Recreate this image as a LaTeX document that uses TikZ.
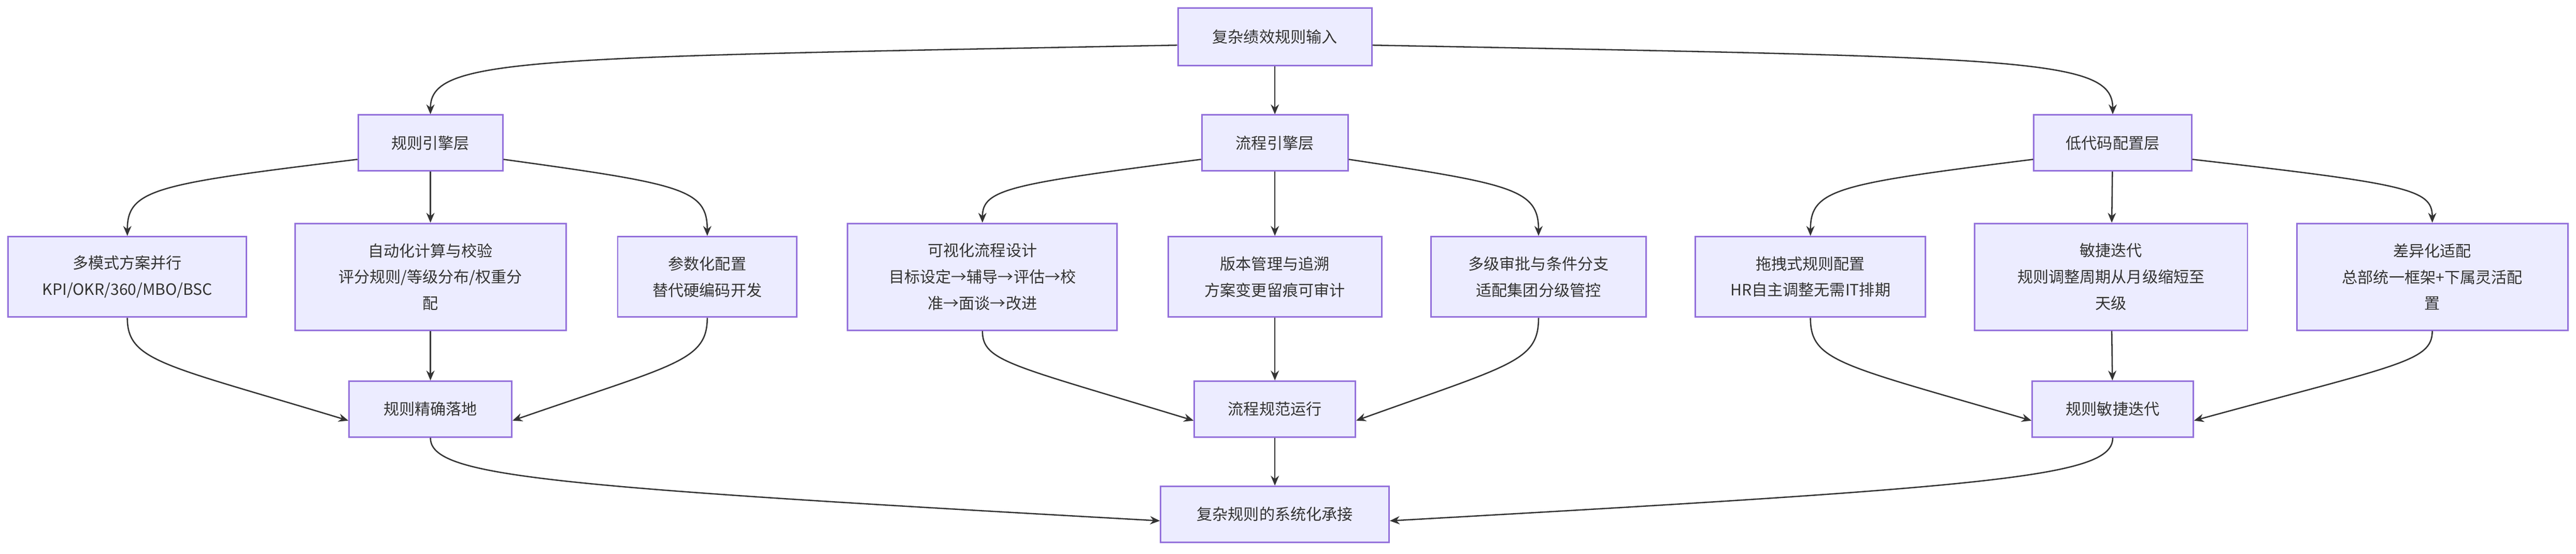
\documentclass[tikz,border=0pt]{standalone}
\usepackage{fontspec}
\setmainfont{Noto Sans CJK SC}
\usetikzlibrary{arrows.meta}
\definecolor{boxfill}{HTML}{ECECFF}
\definecolor{boxline}{HTML}{9370DB}
\definecolor{ink}{HTML}{333333}
\begin{document}
\begin{tikzpicture}[x=1pt,y=-1pt,
  box/.style={draw=boxline,fill=boxfill,line width=0.9pt,align=center,font=\fontsize{9.5}{16}\selectfont,text=ink,inner sep=0pt},
  arr/.style={draw=ink,line width=0.8pt,-{Stealth[length=6pt,width=5pt]}}]
\useasboundingbox (0,0) rectangle (1568,337);
\node[box,minimum width=118,minimum height=35] (top) at (776,22.5) {复杂绩效规则输入};
\node[box,minimum width=88,minimum height=34] (L1) at (262,87) {规则引擎层};
\node[box,minimum width=89,minimum height=34] (L2) at (776,87) {流程引擎层};
\node[box,minimum width=96,minimum height=34] (L3) at (1286,87) {低代码配置层};
\node[box,minimum width=145,minimum height=49] (A1) at (77.5,168.5) {多模式方案并行\\KPI/OKR/360/MBO/BSC};
\node[box,minimum width=165,minimum height=65] (A2) at (262,168.5) {自动化计算与校验\\评分规则/等级分布/权重分\\配};
\node[box,minimum width=109,minimum height=49] (A3) at (430.5,168.5) {参数化配置\\替代硬编码开发};
\node[box,minimum width=164,minimum height=65] (B1) at (598,168.5) {可视化流程设计\\目标设定→辅导→评估→校\\准→面谈→改进};
\node[box,minimum width=130,minimum height=49] (B2) at (776,168.5) {版本管理与追溯\\方案变更留痕可审计};
\node[box,minimum width=131,minimum height=49] (B3) at (936.5,168.5) {多级审批与条件分支\\适配集团分级管控};
\node[box,minimum width=140,minimum height=49] (C1) at (1102,168.5) {拖拽式规则配置\\HR自主调整无需IT排期};
\node[box,minimum width=166,minimum height=65] (C2) at (1285,168.5) {敏捷迭代\\规则调整周期从月级缩短至\\天级};
\node[box,minimum width=165,minimum height=65] (C3) at (1480.5,168.5) {差异化适配\\总部统一框架+下属灵活配\\置};
\node[box,minimum width=99,minimum height=34] (R1) at (262,249) {规则精确落地};
\node[box,minimum width=98,minimum height=34] (R2) at (776,249) {流程规范运行};
\node[box,minimum width=98,minimum height=34] (R3) at (1286,249) {规则敏捷迭代};
\node[box,minimum width=139,minimum height=34] (F) at (776,313) {复杂规则的系统化承接};
\draw[arr] (top.west) ++(0,5) .. controls (320,35) and (262,35) .. (L1.north);
\draw[arr] (top) -- (L2);
\draw[arr] (top.east) ++(0,5) .. controls (1232,35) and (1286,35) .. (L3.north);
\draw[arr] (L1.west) ++(0,10) .. controls (95,112) and (77.5,115) .. (A1.north);
\draw[arr] (L1) -- (A2);
\draw[arr] (L1.east) ++(0,10) .. controls (415,112) and (430.5,115) .. (A3.north);
\draw[arr] (L2.west) ++(0,10) .. controls (615,112) and (598,115) .. (B1.north);
\draw[arr] (L2) -- (B2);
\draw[arr] (L2.east) ++(0,10) .. controls (920,112) and (936.5,115) .. (B3.north);
\draw[arr] (L3.west) ++(0,10) .. controls (1118,112) and (1102,115) .. (C1.north);
\draw[arr] (L3) -- (C2);
\draw[arr] (L3.east) ++(0,10) .. controls (1465,112) and (1480.5,115) .. (C3.north);
\draw[arr] (A1.south) .. controls (77.5,220) and (100,222) .. ([yshift=-7]R1.west);
\draw[arr] (A2) -- (R1);
\draw[arr] (A3.south) .. controls (430.5,220) and (410,222) .. ([yshift=-7]R1.east);
\draw[arr] (B1.south) .. controls (598,220) and (615,222) .. ([yshift=-7]R2.west);
\draw[arr] (B2) -- (R2);
\draw[arr] (B3.south) .. controls (936.5,220) and (920,222) .. ([yshift=-7]R2.east);
\draw[arr] (C1.south) .. controls (1102,220) and (1120,222) .. ([yshift=-7]R3.west);
\draw[arr] (C2) -- (R3);
\draw[arr] (C3.south) .. controls (1480.5,220) and (1460,222) .. ([yshift=-7]R3.east);
\draw[arr] (R1.south) .. controls (262,290) and (330,296) .. ([yshift=-4]F.west);
\draw[arr] (R2) -- (F);
\draw[arr] (R3.south) .. controls (1286,290) and (1220,296) .. ([yshift=-4]F.east);
\end{tikzpicture}
\end{document}
